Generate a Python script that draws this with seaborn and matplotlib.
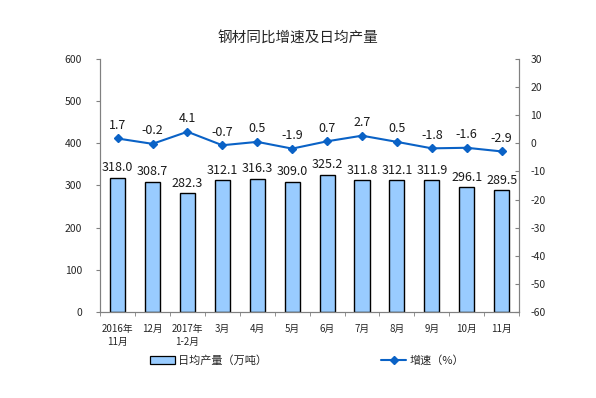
import matplotlib
matplotlib.use("Agg")
import matplotlib.pyplot as plt
import seaborn as sns
import pandas as pd
import numpy as np
from matplotlib.patches import Patch
from matplotlib.lines import Line2D

categories = ["2016年\n11月", "12月", "2017年\n1-2月", "3月", "4月", "5月",
              "6月", "7月", "8月", "9月", "10月", "11月"]
output = [318.0, 308.7, 282.3, 312.1, 316.3, 309.0, 325.2, 311.8, 312.1, 311.9, 296.1, 289.5]
growth = [1.7, -0.2, 4.1, -0.7, 0.5, -1.9, 0.7, 2.7, 0.5, -1.8, -1.6, -2.9]
left_ticks = [0, 100, 200, 300, 400, 500, 600]
right_ticks = [-60, -50, -40, -30, -20, -10, 0, 10, 20, 30]

sns.set_style("white")
plt.rcParams['font.family'] = ['Noto Sans CJK SC', 'DejaVu Sans']
plt.rcParams['axes.unicode_minus'] = False

df = pd.DataFrame({"cat": categories, "output": output, "growth": growth})

fig = plt.figure(figsize=(5.96, 3.98), dpi=100)
ax = fig.add_axes([0.168, 0.216, 0.703, 0.636])

bar_color = "#99CCFF"
line_color = "#0A62C6"
gray = "#808080"

sns.barplot(data=df, x="cat", y="output", ax=ax, color=bar_color,
            edgecolor="black", linewidth=1.0, width=0.43, saturation=1)
ax.set_ylim(0, 600)
ax.set_yticks(left_ticks)
ax.set_xlim(-0.5, len(categories) - 0.5)
ax.set_xlabel("")
ax.set_ylabel("")

for i, v in enumerate(output):
    ax.text(i, v + 8, f"{v:.1f}", ha="center", va="bottom", fontsize=9, color="#1a1a1a")

ax2 = ax.twinx()
ax2.plot(np.arange(len(categories)), growth, color=line_color, lw=1.5,
         marker="D", markersize=4)
ax2.set_ylim(-60, 30)
ax2.set_yticks(right_ticks)
for i, v in enumerate(growth):
    ax2.text(i, v + 2.3, f"{v:.1f}", ha="center", va="bottom", fontsize=9, color="#1a1a1a")

for a in (ax, ax2):
    a.spines["top"].set_visible(False)
    for s in ("left", "right", "bottom"):
        a.spines[s].set_color(gray)
        a.spines[s].set_linewidth(0.8)

ax.tick_params(axis="y", which="both", left=True, length=3, color=gray,
               labelsize=7.5, pad=10, direction="out")
ax2.tick_params(axis="y", right=True, length=3, color=gray, labelsize=7.5,
                pad=8, direction="in")
ax.tick_params(axis="x", bottom=False, labelsize=7, pad=5)
ax.set_xticks(np.arange(len(categories) + 1) - 0.5, minor=True)
ax.tick_params(axis="x", which="minor", bottom=True, length=3, color=gray, direction="out")
for lbl in ax.get_xticklabels():
    lbl.set_linespacing(1.4)

fig.text(0.5, 0.905, "钢材同比增速及日均产量", ha="center", va="center", fontsize=10.5)

handles = [Patch(facecolor=bar_color, edgecolor="black", linewidth=0.9, label="日均产量（万吨）"),
           Line2D([0], [0], color=line_color, lw=1.5, marker="D", markersize=4, label="增速（%）")]
fig.legend(handles=handles, loc="center", bbox_to_anchor=(0.515, 0.095), ncol=2,
           frameon=False, fontsize=8, columnspacing=10.3, handlelength=2.2, handletextpad=0.3)

fig.savefig("out.png", dpi=100)
